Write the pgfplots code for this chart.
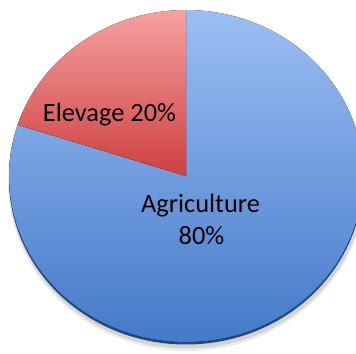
\documentclass[border=0pt]{standalone}
\usepackage{pgfplots}
\pgfplotsset{compat=1.18}
\usepackage{pgfplotstable}
\usepackage{fontspec}
\setmainfont{Carlito}
\definecolor{blueTop}{RGB}{156,190,244}
\definecolor{blueBot}{RGB}{68,122,200}
\definecolor{redTop}{RGB}{246,160,160}
\definecolor{redBot}{RGB}{206,64,64}
\definecolor{rimBlue}{RGB}{38,72,120}
\pgfplotstableread{
label value
Agriculture 80
Elevage 20
}\piedata
\pgfplotstablegetelem{0}{value}\of\piedata
\let\vA\pgfplotsretval
\pgfplotstablegetelem{1}{value}\of\piedata
\let\vB\pgfplotsretval
\pgfmathsetmacro\aA{90-\vA*3.6}
\pgfmathsetmacro\aB{\aA-\vB*3.6}
\pgfmathsetmacro\xS{177*cos(\aA)}
\pgfmathsetmacro\yS{166*sin(\aA)}
\begin{document}
\begin{tikzpicture}
\begin{axis}[scale only axis, width=356bp, height=354bp,
  xmin=0, xmax=356, ymin=0, ymax=354, hide axis, clip=false]
\path[use as bounding box] (axis cs:0,0) rectangle (axis cs:356,354);
% soft shadow
\fill[black, opacity=0.08] (axis cs:187,172) ellipse[x radius=179bp, y radius=169bp];
\fill[black, opacity=0.10] (axis cs:187,173) ellipse[x radius=178bp, y radius=167.5bp];
\fill[rimBlue] (axis cs:186,175.5) ellipse[x radius=177bp, y radius=166bp];
% Agriculture slice
\fill[top color=blueTop, bottom color=blueBot]
  (axis cs:186,178) -- ++(0,166bp)
  arc[start angle=90, end angle=\aA, x radius=177bp, y radius=166bp] -- cycle;
% Elevage slice
\fill[top color=redTop, bottom color=redBot]
  (axis cs:186,178) -- ++(\xS bp,\yS bp)
  arc[start angle=\aA, end angle=\aB, x radius=177bp, y radius=166bp] -- cycle;
\node[anchor=base, font=\fontsize{26.5}{31}\selectfont] at (axis cs:109.5,232) {Elevage 20\%};
\node[anchor=base, font=\fontsize{26.5}{31}\selectfont] at (axis cs:200.5,141) {Agriculture};
\node[anchor=base, font=\fontsize{26.5}{31}\selectfont] at (axis cs:201.5,109) {80\%};
\end{axis}
\end{tikzpicture}
\end{document}
